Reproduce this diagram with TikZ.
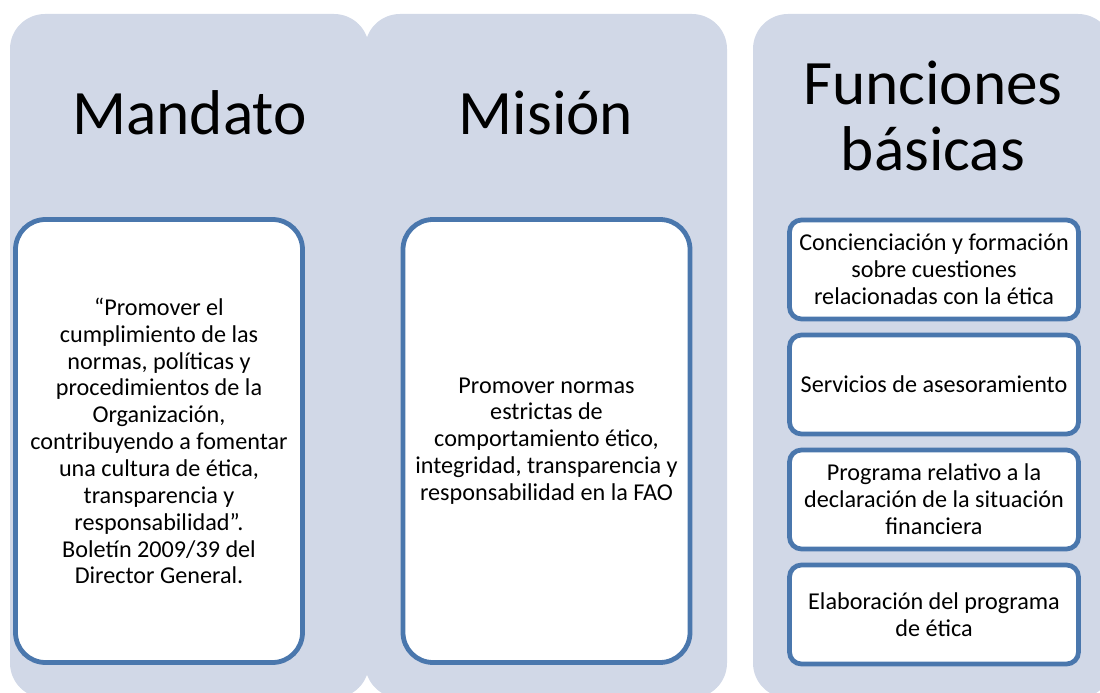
\documentclass[tikz,border=0pt]{standalone}
\usepackage{fontspec}
\setmainfont{Carlito}
\usepackage{tikz}
\definecolor{panelfill}{HTML}{D1D8E7}
\definecolor{boxline}{HTML}{4A77AD}
\tikzset{
  panel/.style={fill=panelfill, draw=none, rounded corners=0.875cm},
  title/.style={font=\fontsize{45pt}{47.6pt}\selectfont, align=center, inner sep=0pt},
  bigbox/.style={draw=boxline, fill=white, line width=3.4pt, rounded corners=0.75cm,
    minimum width=7.175cm, minimum height=11.075cm, align=center,
    font=\fontsize{17.2pt}{19.1pt}\selectfont},
  smallbox/.style={draw=boxline, fill=white, line width=3.4pt, rounded corners=0.3cm,
    minimum width=7.225cm, minimum height=2.475cm, align=center,
    font=\fontsize{17.2pt}{19.1pt}\selectfont}
}

\begin{document}
\begin{tikzpicture}
  \useasboundingbox (0cm,0cm) rectangle (27.5cm,-17.325cm);
  \begin{scope}
  \clip (0cm,0cm) rectangle (27.5cm,-17.325cm);
  \filldraw[panel] (0.25cm,-0.35cm) rectangle (9.225cm,-17.45cm);
  \filldraw[panel] (9.125cm,-0.35cm) rectangle (18.175cm,-17.45cm);
  \filldraw[panel] (18.825cm,-0.35cm) rectangle (27.825cm,-17.45cm);
  \end{scope}

  \node[title, anchor=base] (mandato) at (4.7375cm,-3.375cm) {Mandato};
  \node[title, anchor=base] (mision) at (13.65cm,-3.375cm) {Misión};
  \node[title] (funciones) at (23.325cm,-2.9cm) {Funciones\\básicas};

  \node[bigbox] (mandatotxt) at (3.975cm,-11.025cm)
    {“Promover el\\cumplimiento de las\\normas, políticas y\\procedimientos de la\\Organización,\\contribuyendo a fomentar\\una cultura de ética,\\transparencia y\\responsabilidad”.\\Boletín 2009/39 del\\Director General.};
  \node[bigbox] (misiontxt) at (13.6625cm,-11.025cm)
    {Promover normas\\estrictas de\\comportamiento ético,\\integridad, transparencia y\\responsabilidad en la FAO};

  \node[smallbox] (concienciacion) at (23.35cm,-6.7375cm)
    {Concienciación y formación\\sobre cuestiones\\relacionadas con la ética};
  \node[smallbox] (servicios) at (23.35cm,-9.6125cm)
    {Servicios de asesoramiento};
  \node[smallbox] (declaracion) at (23.35cm,-12.4875cm)
    {Programa relativo a la\\declaración de la situación\\financiera};
  \node[smallbox] (elaboracion) at (23.35cm,-15.3625cm)
    {Elaboración del programa\\de ética};
\end{tikzpicture}
\end{document}
